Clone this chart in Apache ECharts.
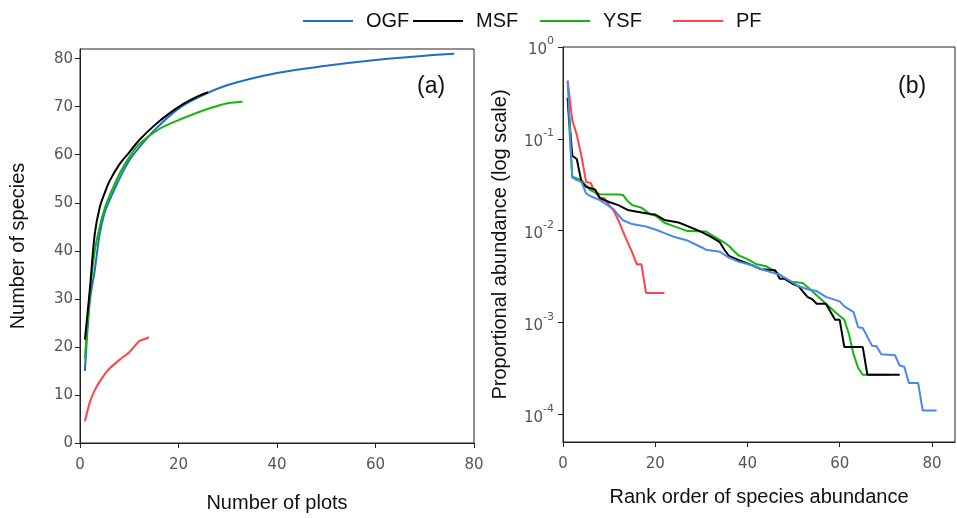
<!DOCTYPE html>
<html>
<head>
<meta charset="utf-8">
<script src="https://cdn.jsdelivr.net/npm/echarts@6/dist/echarts.min.js"></script>
<style>
  html, body { margin: 0; padding: 0; background: #fff; }
  #chart { width: 957px; height: 518px; }
</style>
</head>
<body>
<div id="chart"></div>
<script>
// (a) species accumulation: number of plots -> number of species
const ogfPlots = [1, 2, 3, 4, 5, 6, 8, 10, 12, 15, 20, 25, 30, 40, 50, 60, 70, 76];
const ogfSpecies = [15, 29.5, 36, 43.5, 48, 50.5, 55, 58.8, 61.5, 65, 69.6, 72.4, 74.5, 77, 78.5, 79.7, 80.6, 81];
const msfPlots = [1, 2, 3, 4, 5, 6, 8, 10, 12, 15, 18, 21, 24, 26];
const msfSpecies = [21.5, 32, 43.5, 49, 52, 54.5, 58, 60.5, 63, 66, 68.5, 70.6, 72.2, 73];
const ysfPlots = [1, 2, 3, 4, 5, 6, 8, 10, 12, 16, 20, 25, 28, 30, 33];
const ysfSpecies = [17.5, 31, 40, 45, 48.8, 51.5, 56, 59.5, 62.2, 65.3, 67.2, 69.2, 70.2, 70.7, 71];
const pfPlots = [1, 2, 3, 4, 5, 6, 8, 10, 12, 13, 14];
const pfSpecies = [4.5, 8.5, 11, 12.8, 14.3, 15.5, 17.3, 18.9, 21.2, 21.6, 22];

// (b) rank abundance: rank -> proportional abundance
const ogfRank = [1, 2, 3, 4, 5, 6, 8, 10, 11, 12, 13, 15, 18, 20, 22, 24, 27, 30, 31, 34, 36, 38, 41, 43, 47, 49, 51, 53, 55, 57, 60, 61, 63, 64, 65, 67, 68, 69, 72, 73, 74, 75, 77, 78, 81];
const ogfAbund = [0.43, 0.038, 0.0355, 0.034, 0.0255, 0.0237, 0.0215, 0.0185, 0.017, 0.0148, 0.013, 0.0118, 0.0111, 0.0103, 0.0094, 0.0086, 0.0078, 0.0066, 0.0062, 0.0059, 0.0051, 0.0046, 0.0042, 0.0038, 0.0033, 0.0029, 0.0025, 0.0023, 0.0022, 0.0019, 0.0017, 0.0015, 0.0013, 0.00089, 0.00087, 0.00056, 0.00055, 0.00045, 0.00044, 0.00034, 0.00033, 0.00022, 0.00022, 0.00011, 0.00011];
const msfRank = [1, 2, 3, 4, 5, 6, 7, 8, 10, 12, 14, 17, 19, 20, 22, 25, 28, 30, 32, 34, 35, 36, 38, 41, 43, 46, 47, 48, 50, 51, 53, 54, 55, 57, 59, 60, 61, 65, 66, 73];
const msfAbund = [0.28, 0.066, 0.06, 0.034, 0.03, 0.029, 0.028, 0.0225, 0.0205, 0.019, 0.0168, 0.0158, 0.0152, 0.015, 0.0131, 0.0123, 0.0107, 0.0097, 0.0086, 0.0075, 0.0062, 0.0053, 0.0048, 0.0042, 0.0038, 0.0037, 0.003, 0.003, 0.0026, 0.0025, 0.0019, 0.0018, 0.0016, 0.0016, 0.00107, 0.00107, 0.00054, 0.00054, 0.00027, 0.00027];
const ysfRank = [1, 2, 3, 4, 5, 6, 7, 8, 12, 13, 14, 15, 16, 17, 19, 20, 22, 24, 27, 31, 33, 35, 36, 38, 40, 42, 44, 46, 49, 52, 54, 57, 59, 61, 62, 63, 64, 65, 71];
const ysfAbund = [0.275, 0.0386, 0.037, 0.0355, 0.031, 0.0276, 0.026, 0.025, 0.0248, 0.0245, 0.021, 0.019, 0.0184, 0.0178, 0.015, 0.0146, 0.0122, 0.0112, 0.0099, 0.0098, 0.0085, 0.0074, 0.0068, 0.0054, 0.0049, 0.0043, 0.0041, 0.0036, 0.0028, 0.0027, 0.0022, 0.0016, 0.0013, 0.00107, 0.00075, 0.00045, 0.00032, 0.00027, 0.00027];
const pfRank = [1, 2, 3, 4, 5, 6, 7, 8, 9, 10, 11, 12, 13, 14, 15, 16, 17, 18, 22];
const pfAbund = [0.43, 0.16, 0.11, 0.065, 0.034, 0.033, 0.026, 0.023, 0.0225, 0.019, 0.0165, 0.013, 0.0098, 0.0075, 0.0058, 0.0043, 0.0043, 0.0021, 0.0021];

// tick labels
const plotTicks = [0, 20, 40, 60, 80];
const speciesTicks = [0, 10, 20, 30, 40, 50, 60, 70, 80];
const rankTicks = [0, 20, 40, 60, 80];
const abundTicks = [0.0001, 0.001, 0.01, 0.1, 1];

const names = ['OGF', 'MSF', 'YSF', 'PF'];

function zip (xs, ys) {
    return xs.map((x, i) => [x, ys[i]]);
}

let myChart = echarts.init(document.getElementById('chart'));

const axisFont = 'DejaVu Sans';
const titleFont = 'Liberation Sans';

function baseAxis (gridIndex) {
    return {
        gridIndex: gridIndex,
        axisLine: { show: true, lineStyle: { color: '#222', width: 1 } },
        splitLine: { show: false },
        nameLocation: 'middle',
        nameTextStyle: { fontFamily: titleFont, fontSize: 20, color: '#111' }
    };
}

const xAxis = [
    Object.assign(baseAxis(0), {
        type: 'value', min: 0, max: 80, name: 'Number of plots', nameGap: 50,
        axisTick: { show: true, length: 5, customValues: plotTicks, lineStyle: { color: '#222' } },
        axisLabel: { fontFamily: axisFont, fontSize: 15, color: '#555', margin: 15, customValues: plotTicks }
    }),
    Object.assign(baseAxis(1), {
        type: 'value', min: 0, max: 85, name: 'Rank order of species abundance', nameGap: 45,
        axisTick: { show: true, length: 5, customValues: rankTicks, lineStyle: { color: '#222' } },
        axisLabel: { fontFamily: axisFont, fontSize: 15, color: '#555', margin: 15, customValues: rankTicks }
    })
];

const yAxis = [
    Object.assign(baseAxis(0), {
        type: 'value', min: 0, max: 82, name: 'Number of species', nameGap: 52,
        axisTick: { show: true, length: 5, customValues: speciesTicks, lineStyle: { color: '#222' } },
        axisLabel: { fontFamily: axisFont, fontSize: 15, color: '#555', margin: 7, customValues: speciesTicks }
    }),
    Object.assign(baseAxis(1), {
        type: 'log', logBase: 10, min: 0.00005, max: 1, name: 'Proportional abundance (log scale)', nameGap: 53,
        axisTick: { show: true, length: 5, customValues: abundTicks, lineStyle: { color: '#222' } },
        axisLabel: {
            fontFamily: axisFont, fontSize: 15, color: '#555', margin: 9, customValues: abundTicks,
            formatter: function (v) {
                return '{b|10}{s|' + Math.round(Math.log10(v)) + '}';
            },
            rich: {
                b: { fontFamily: axisFont, fontSize: 15, color: '#555', lineHeight: 22, verticalAlign: 'bottom' },
                s: { fontFamily: axisFont, fontSize: 11, color: '#555', lineHeight: 11, verticalAlign: 'top' }
            }
        }
    })
];

const leftColors = ['#1d6fc6', '#000000', '#13b513', '#ff4444'];
const rightColors = ['#4a88ee', '#000000', '#13b513', '#ff4444'];

const leftData = [zip(ogfPlots, ogfSpecies), zip(msfPlots, msfSpecies), zip(ysfPlots, ysfSpecies), zip(pfPlots, pfSpecies)];
const rightData = [zip(ogfRank, ogfAbund), zip(msfRank, msfAbund), zip(ysfRank, ysfAbund), zip(pfRank, pfAbund)];

const series = [];
names.forEach(function (n, idx) {
    series.push({
        type: 'line', name: n, data: leftData[idx],
        xAxisIndex: 0, yAxisIndex: 0,
        smooth: 0.35,
        symbol: 'none',
        lineStyle: { color: leftColors[idx], width: 2 },
        itemStyle: { color: leftColors[idx] },
        z: idx === 1 ? 5 : 3
    });
});
// right panel: blue drawn last (on top)
[3, 2, 1, 0].forEach(function (idx) {
    series.push({
        type: 'line', name: names[idx], data: rightData[idx],
        xAxisIndex: 1, yAxisIndex: 1,
        symbol: 'none',
        lineStyle: { color: rightColors[idx], width: 2 },
        itemStyle: { color: rightColors[idx] }
    });
});

const legendLeft = [298, 408, 535, 668];
const legend = names.map(function (n, idx) {
    return {
        data: [n], left: legendLeft[idx], top: 6,
        icon: 'rect', itemWidth: 50, itemHeight: 2, itemGap: 0,
        selectedMode: false,
        textStyle: { fontFamily: titleFont, fontSize: 20, color: '#111', padding: [0, 0, 0, 8] }
    };
});

let option = {
    animation: false,
    backgroundColor: '#fff',
    legend: legend,
    grid: [
        { left: 80, top: 49, width: 394, height: 395, show: true, borderColor: '#222', borderWidth: 1 },
        { left: 563, top: 47, width: 392, height: 395, show: true, borderColor: '#222', borderWidth: 1 }
    ],
    xAxis: xAxis,
    yAxis: yAxis,
    series: series,
    graphic: [
        { type: 'text', left: 417, top: 75, style: { text: '(a)', fontFamily: titleFont, fontSize: 23, fill: '#111' } },
        { type: 'text', left: 898, top: 75, style: { text: '(b)', fontFamily: titleFont, fontSize: 23, fill: '#111' } }
    ]
};

option && myChart.setOption(option);
</script>
</body>
</html>
